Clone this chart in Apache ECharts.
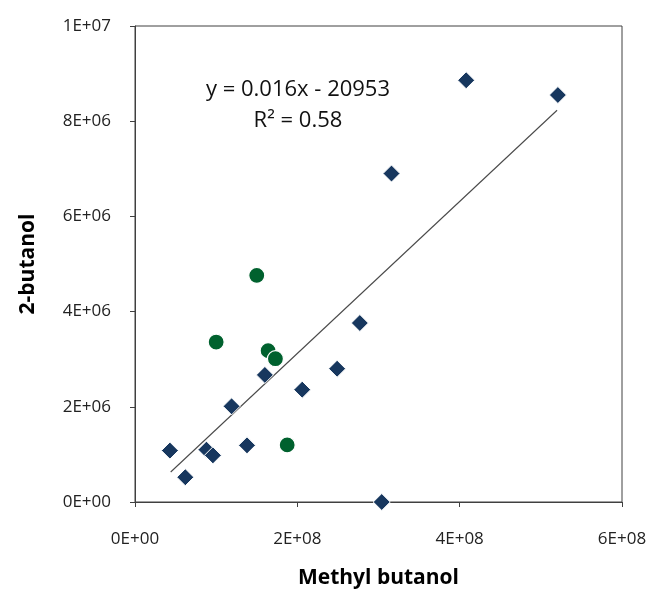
<!DOCTYPE html>
<html>
<head>
<meta charset="utf-8">
<script src="https://cdn.jsdelivr.net/npm/echarts@6/dist/echarts.min.js"></script>
<style>
  html, body { margin: 0; padding: 0; background: #fff; }
  #chart { width: 658px; height: 590px; }
</style>
</head>
<body>
<div id="chart"></div>
<script>
// diamonds (navy)
var diamondX = [4.3e7, 6.2e7, 8.8e7, 9.6e7, 1.19e8, 1.38e8, 1.6e8, 2.06e8, 2.49e8, 2.77e8, 3.04e8, 3.16e8, 4.08e8, 5.21e8]
var diamondY = [1.08e6, 0.52e6, 1.10e6, 0.98e6, 2.01e6, 1.19e6, 2.67e6, 2.36e6, 2.80e6, 3.76e6, 0, 6.90e6, 8.86e6, 8.55e6]
// circles (green)
var circleX = [1.0e8, 1.5e8, 1.64e8, 1.73e8, 1.875e8]
var circleY = [3.36e6, 4.76e6, 3.18e6, 3.01e6, 1.20e6]
// trend line ends
var trendX = [4.4e7, 5.2e8]
var trendY = [0.63e6, 8.23e6]
var xTickLabels = ['0E+00', '2E+08', '4E+08', '6E+08']
var yTickLabels = ['0E+00', '2E+06', '4E+06', '6E+06', '8E+06', '1E+07']
var equation = 'y = 0.016x - 20953'
var rSquared = 'R\u00b2 = 0.58'

function pairs(xs, ys) {
  var out = []
  for (var i = 0; i < xs.length; i++) out.push([xs[i], ys[i]])
  return out
}

var font = '"Open Sans", "DejaVu Sans", sans-serif'
var chart = echarts.init(document.getElementById('chart'))
var option = {
  animation: false,
  grid: {
    left: 135, right: 36, top: 26, bottom: 88,
    containLabel: false, outerBoundsMode: 'none',
    show: true, borderColor: '#404040', borderWidth: 1
  },
  xAxis: {
    type: 'value', min: 0, max: 6e8, interval: 2e8,
    name: 'Methyl butanol', nameLocation: 'middle', nameGap: 66,
    nameTextStyle: { fontFamily: font, fontWeight: 'bold', fontSize: 21, color: '#000' },
    axisLine: { lineStyle: { color: '#404040' } },
    axisTick: { show: true, inside: false, length: 5, lineStyle: { color: '#404040' } },
    axisLabel: {
      fontFamily: font, fontSize: 17, color: '#222', margin: 29,
      formatter: function (v) { return xTickLabels[Math.round(v / 2e8)] }
    },
    splitLine: { show: false }
  },
  yAxis: {
    type: 'value', min: 0, max: 1e7, interval: 2e6,
    name: '2-butanol', nameLocation: 'middle', nameGap: 96, nameRotate: 90,
    nameTextStyle: { fontFamily: font, fontWeight: 'bold', fontSize: 21, color: '#000' },
    axisLine: { show: true, lineStyle: { color: '#404040' } },
    axisTick: { show: true, inside: false, length: 5, lineStyle: { color: '#404040' } },
    axisLabel: {
      fontFamily: font, fontSize: 17, color: '#222', margin: 24,
      formatter: function (v) { return yTickLabels[Math.round(v / 2e6)] }
    },
    splitLine: { show: false }
  },
  graphic: [{
    type: 'text',
    style: {
      x: 298, y: 74, text: equation + '\n' + rSquared, textAlign: 'center',
      fontFamily: font, fontSize: 22, lineHeight: 31, fill: '#111'
    }
  }],
  series: [{
    type: 'line',
    data: pairs(trendX, trendY),
    symbol: 'none',
    lineStyle: { color: '#4a4a4a', width: 1.1 },
    z: 1
  }, {
    type: 'scatter',
    data: pairs(diamondX, diamondY),
    symbol: 'diamond',
    symbolSize: 17,
    itemStyle: { color: '#17375e', borderColor: '#fff', borderWidth: 1, opacity: 1 },
    z: 3
  }, {
    type: 'scatter',
    data: pairs(circleX, circleY),
    symbol: 'circle',
    symbolSize: 16,
    itemStyle: { color: '#00612e', borderColor: '#fff', borderWidth: 1.2, opacity: 1 },
    z: 3
  }]
}
chart.setOption(option)
</script>
</body>
</html>
